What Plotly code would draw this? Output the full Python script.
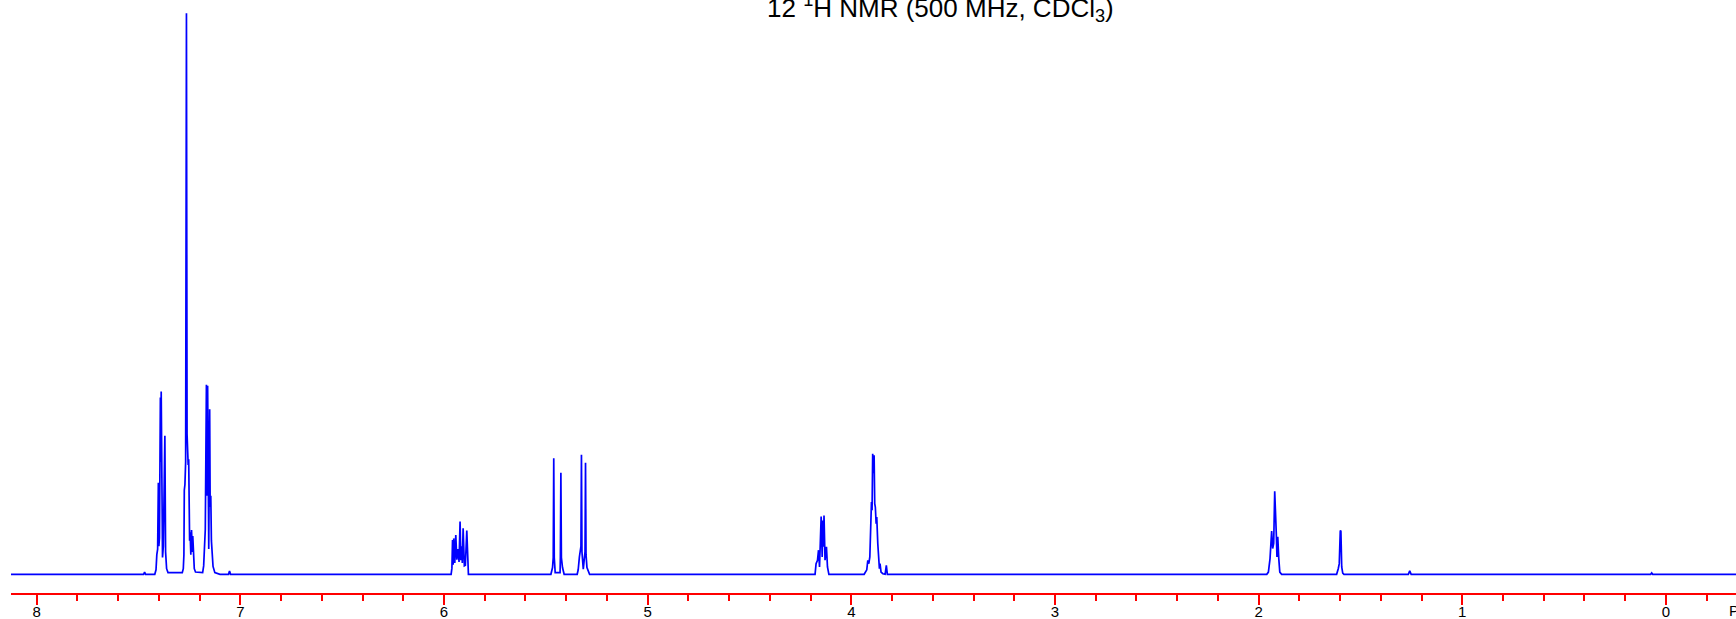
import plotly.graph_objects as go

# ---- data: chemical shift (ppm) and relative intensity (CDCl3 line = 100) ----
arom_ppm = [8.20, 7.475, 7.470, 7.465, 7.420, 7.414, 7.410, 7.406, 7.4025, 7.400, 7.397, 7.3925, 7.3905,
            7.3885, 7.386, 7.382, 7.378, 7.3705, 7.367, 7.362, 7.355, 7.340, 7.300]
arom_int = [0.0, 0.0, 0.4, 0.0, 0.0, 0.8, 3.5, 4.5, 16.3, 5.0, 6.5, 31.5, 20.0,
            32.6, 7.0, 3.0, 5.0, 24.7, 4.0, 1.0, 0.3, 0.3, 0.3]

cdcl3_ppm = [7.285, 7.280, 7.277, 7.275, 7.272, 7.2685, 7.2645, 7.2615, 7.259, 7.256, 7.2535, 7.251,
             7.249, 7.2465, 7.243, 7.2395, 7.236, 7.2335, 7.230, 7.226, 7.220, 7.200]
cdcl3_int = [0.3, 1.0, 3.5, 15.0, 16.0, 20.0, 100.0, 25.0, 20.5, 19.5, 20.5, 8.0,
             6.0, 7.5, 3.5, 7.9, 4.0, 6.8, 2.0, 1.0, 0.4, 0.3]

ar2_ppm = [7.185, 7.180, 7.176, 7.172, 7.1665, 7.164, 7.1605, 7.158, 7.155, 7.1505, 7.148, 7.145,
           7.142, 7.138, 7.134, 7.125, 7.100, 7.058, 7.053, 7.048]
ar2_int = [0.3, 1.5, 4.0, 8.0, 33.8, 14.0, 33.6, 8.0, 4.5, 29.4, 12.0, 14.0,
           6.0, 3.5, 1.4, 0.3, 0.0, 0.0, 0.6, 0.0]

vinyl_ppm = [5.965, 5.961, 5.958, 5.955, 5.952, 5.947, 5.942, 5.937, 5.931, 5.926, 5.921, 5.917,
             5.913, 5.910, 5.906, 5.900, 5.895, 5.888, 5.884, 5.880]
vinyl_int = [0.0, 1.1, 6.1, 1.7, 6.4, 2.0, 7.0, 2.6, 4.5, 2.2, 9.4, 2.5,
             5.0, 2.0, 8.2, 1.5, 1.6, 7.8, 1.0, 0.0]

olef_ppm = [5.475, 5.467, 5.4635, 5.461, 5.4585, 5.454, 5.430, 5.4285, 5.426, 5.4235, 5.418, 5.410,
            5.346, 5.341, 5.335, 5.3275, 5.325, 5.3225, 5.316, 5.3075, 5.305, 5.3025, 5.298, 5.291, 5.285]
olef_int = [0.0, 1.2, 3.0, 20.7, 3.0, 0.3, 0.3, 3.0, 18.1, 3.0, 1.2, 0.0,
            0.0, 0.8, 3.1, 5.0, 21.3, 4.0, 0.9, 4.0, 19.9, 3.5, 1.2, 0.3, 0.0]

och2_ppm = [4.178, 4.173, 4.166, 4.161, 4.156, 4.148, 4.143, 4.140, 4.137, 4.134, 4.129, 4.122,
            4.117, 4.110]
och2_int = [0.0, 1.9, 2.5, 4.3, 1.3, 10.3, 3.1, 9.6, 4.9, 10.5, 2.5, 4.9,
            1.3, 0.0]

nch2_ppm = [3.937, 3.931, 3.924, 3.919, 3.914, 3.909, 3.904, 3.901, 3.898, 3.895, 3.892, 3.888,
            3.885, 3.882, 3.878, 3.875, 3.870, 3.865, 3.862, 3.859, 3.854, 3.845, 3.834, 3.828, 3.823]
nch2_int = [0.0, 0.4, 0.8, 2.5, 1.9, 3.1, 12.0, 12.9, 11.4, 21.5, 18.0, 21.2,
            12.6, 12.0, 9.0, 10.2, 5.5, 1.9, 1.0, 1.9, 0.4, 0.1, 0.0, 1.6, 0.0]

allyl_ppm = [1.960, 1.952, 1.944, 1.936, 1.931, 1.926, 1.921, 1.916, 1.913, 1.910, 1.906, 1.901,
             1.896, 1.887]
allyl_int = [0.0, 0.4, 2.8, 7.7, 4.6, 5.5, 14.8, 11.4, 7.0, 3.1, 6.7, 2.8,
             0.4, 0.0]

minor_ppm = [1.617, 1.609, 1.604, 1.599, 1.596, 1.592, 1.587, 1.581,
             1.265, 1.258, 1.251, 0.075, 0.070, 0.065, -0.40]
minor_int = [0.0, 1.0, 1.9, 7.8, 7.7, 1.3, 0.2, 0.0,
             0.0, 0.6, 0.0, 0.0, 0.25, 0.0, 0.0]

major_ticks = [8, 7, 6, 5, 4, 3, 2, 1, 0]
tick_labels = ["8", "7", "6", "5", "4", "3", "2", "1", "0"]
title_html = "12 <sup>1</sup>H NMR (500 MHz, CDCl<sub>3</sub>)"
unit_label = "PPM"

ppm = arom_ppm + cdcl3_ppm + ar2_ppm + vinyl_ppm + olef_ppm + och2_ppm + nch2_ppm + allyl_ppm + minor_ppm
inten = arom_int + cdcl3_int + ar2_int + vinyl_int + olef_int + och2_int + nch2_int + allyl_int + minor_int

FONT = "Liberation Sans, Arial, sans-serif"

fig = go.Figure()
fig.add_trace(go.Scatter(x=ppm, y=inten, mode="lines",
                         line=dict(color="#0000FF", width=1.7), hoverinfo="skip",
                         showlegend=False))

fig.update_layout(
    width=1736, height=619,
    margin=dict(l=11, r=0, t=0, b=26, pad=0),
    paper_bgcolor="white", plot_bgcolor="white",
    font=dict(family=FONT, color="black"),
    xaxis=dict(
        range=[8.126, -0.344], autorange=False,
        showgrid=False, zeroline=False,
        showline=True, linecolor="#FF0000", linewidth=2,
        ticks="outside", tickcolor="#FF0000", ticklen=10, tickwidth=1.5,
        tickvals=major_ticks, ticktext=tick_labels,
        tickfont=dict(family=FONT, size=15, color="black"),
        ticklabelstandoff=-6,
        minor=dict(dtick=0.2, tick0=0, ticks="outside", ticklen=6, tickwidth=1.5,
                   tickcolor="#FF0000", showgrid=False),
    ),
    yaxis=dict(range=[-3.333, 102.37], autorange=False, visible=False,
               showgrid=False, zeroline=False),
    annotations=[
        dict(text=title_html, xref="paper", yref="paper", x=0.4371, y=1.0,
             xanchor="left", yanchor="top", yshift=12, showarrow=False,
             font=dict(family=FONT, size=26, color="black")),
        dict(text=unit_label, xref="x", yref="paper", x=-0.30, y=0,
             xanchor="left", yanchor="middle", yshift=-17, showarrow=False,
             font=dict(family=FONT, size=15, color="black")),
    ],
)

fig.write_html("out.html", config={"displayModeBar": False},
               post_script="document.body.style.margin='0px';document.body.style.overflow='hidden';")
